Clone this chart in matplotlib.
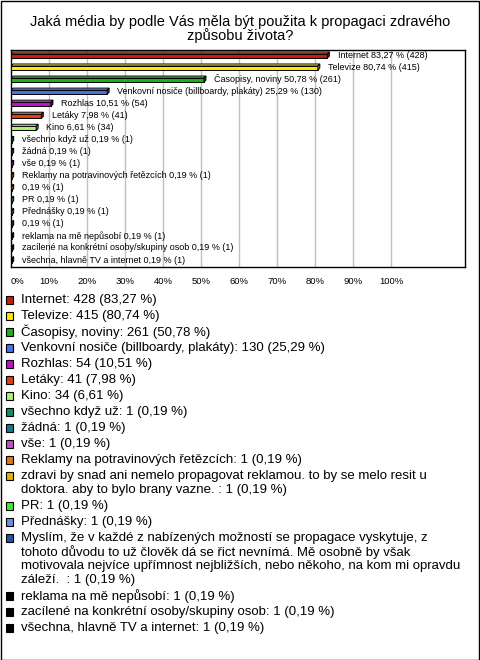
import textwrap
import matplotlib
matplotlib.use("Agg")
import matplotlib.pyplot as plt
from matplotlib.patches import Polygon, Rectangle
from matplotlib import colors as mcolors

plt.rcParams['font.family'] = ['Liberation Sans', 'DejaVu Sans']

title = "Jaká média by podle Vás měla být použita k propagaci zdravého\nzpůsobu života?"

categories = [
    "Internet",
    "Televize",
    "Časopisy, noviny",
    "Venkovní nosiče (billboardy, plakáty)",
    "Rozhlas",
    "Letáky",
    "Kino",
    "všechno když už",
    "žádná",
    "vše",
    "Reklamy na potravinových řetězcích",
    "zdravi by snad ani nemelo propagovat reklamou. to by se melo resit u doktora. aby to bylo brany vazne. ",
    "PR",
    "Přednášky",
    "Myslím, že v každé z nabízených možností se propagace vyskytuje, z tohoto důvodu to už člověk dá se řict nevnímá. Mě osobně by však motivovala nejvíce upřímnost nejbližších, nebo někoho, na kom mi opravdu záleží.  ",
    "reklama na mě nepůsobí",
    "zacílené na konkrétní osoby/skupiny osob",
    "všechna, hlavně TV a internet",
]
counts = [428, 415, 261, 130, 54, 41, 34, 1, 1, 1, 1, 1, 1, 1, 1, 1, 1, 1]
percents = [83.27, 80.74, 50.78, 25.29, 10.51, 7.98, 6.61,
            0.19, 0.19, 0.19, 0.19, 0.19, 0.19, 0.19, 0.19, 0.19, 0.19, 0.19]
bar_names = [
    "Internet", "Televize", "Časopisy, noviny",
    "Venkovní nosiče (billboardy, plakáty)", "Rozhlas", "Letáky", "Kino",
    "všechno když už", "žádná", "vše", "Reklamy na potravinových řetězcích",
    "", "PR", "Přednášky", "", "reklama na mě nepůsobí",
    "zacílené na konkrétní osoby/skupiny osob", "všechna, hlavně TV a internet",
]
bar_colors = [
    "#C41E0A", "#FFE800", "#1CB01C", "#4870E8", "#C010C8", "#E04010",
    "#B0F070", "#10905A", "#18788C", "#C050C0", "#E07818", "#E8B000",
    "#40E830", "#6890E0", "#2850B0", "#000000", "#000000", "#000000",
]
tick_values = [0, 10, 20, 30, 40, 50, 60, 70, 80, 90, 100]
tick_labels = ["0%", "10%", "20%", "30%", "40%", "50%", "60%", "70%", "80%", "90%", "100%"]


def fmt(p):
    return f"{p:.2f}".replace(".", ",")


W, H = 480, 660
fig = plt.figure(figsize=(W / 100, H / 100), dpi=100)

# outer border
fig.add_artist(Rectangle((0.5 / W, 0.5 / H), 1 - 1.5 / W, 1 - 1.5 / H,
                         transform=fig.transFigure, fill=False,
                         edgecolor="black", linewidth=1))

fig.text(0.5, 1 - 29 / H, title, ha="center", va="center", fontsize=10.5,
         linespacing=1.0)

ax_l, ax_r, ax_t, ax_b = 11, 465, 50, 267
ax = fig.add_axes([ax_l / W, 1 - ax_b / H, (ax_r - ax_l) / W, (ax_b - ax_t) / H])
px_per_pct = 3.8
xmax = (ax_r - ax_l) / px_per_pct
ax.set_xlim(0, xmax)
n = len(categories)
ax.set_ylim(n - 0.5, -0.5)

for x in tick_values[1:]:
    ax.axvline(x, color="#c0c0c0", linewidth=1, zorder=0)

row_px = (ax_b - ax_t) / n
h = 4.2 / row_px
dy = 2.0 / row_px
dx = 2.0 / px_per_pct


def shade(c, f):
    r, g, b = mcolors.to_rgb(c)
    if f > 1:
        return (r + (1 - r) * (f - 1), g + (1 - g) * (f - 1), b + (1 - b) * (f - 1))
    return (r * f, g * f, b * f)


for i, (v, c) in enumerate(zip(percents, bar_colors)):
    top = i - h / 2
    bot = i + h / 2
    ax.add_patch(Rectangle((0, top), v, h, facecolor=c, edgecolor="black",
                           linewidth=0.7, zorder=3))
    ax.add_patch(Polygon([(0, top), (v, top), (v + dx, top - dy), (dx, top - dy)],
                         closed=True, facecolor=shade(c, 1.35), edgecolor="black",
                         linewidth=0.7, zorder=3))
    ax.add_patch(Polygon([(v, top), (v + dx, top - dy), (v + dx, bot - dy), (v, bot)],
                         closed=True, facecolor=shade(c, 0.6), edgecolor="black",
                         linewidth=0.7, zorder=3))
    name = bar_names[i]
    lab = (name + " " if name else "") + f"{fmt(v)} % ({counts[i]})"
    ax.text(v + 2.7, i - 0.08, lab, fontsize=6.5, va="center", ha="left", zorder=4)

ax.set_xticks(tick_values)
ax.set_xticklabels(tick_labels, fontsize=6.8)
ax.tick_params(axis="x", length=0, pad=7)
ax.get_xticklabels()[0].set_ha("left")
ax.set_yticks([])
for s in ax.spines.values():
    s.set_linewidth(1)
    s.set_color("black")

# legend
y = 300.0
for i, (name, cnt, p, c) in enumerate(zip(categories, counts, percents, bar_colors)):
    text = f"{name}: {cnt} ({fmt(p)} %)"
    lines = textwrap.wrap(text, width=72, drop_whitespace=True)
    fig.add_artist(Rectangle((5.5 / W, 1 - (y + 4) / H), 8 / W, 8 / H,
                             transform=fig.transFigure, facecolor=c,
                             edgecolor="black", linewidth=0.8))
    for j, line in enumerate(lines):
        fig.text(21 / W, 1 - y / H, line, fontsize=9.5, va="center", ha="left")
        if j < len(lines) - 1:
            y += 14
    y += 16

fig.savefig("out.png", dpi=100)
